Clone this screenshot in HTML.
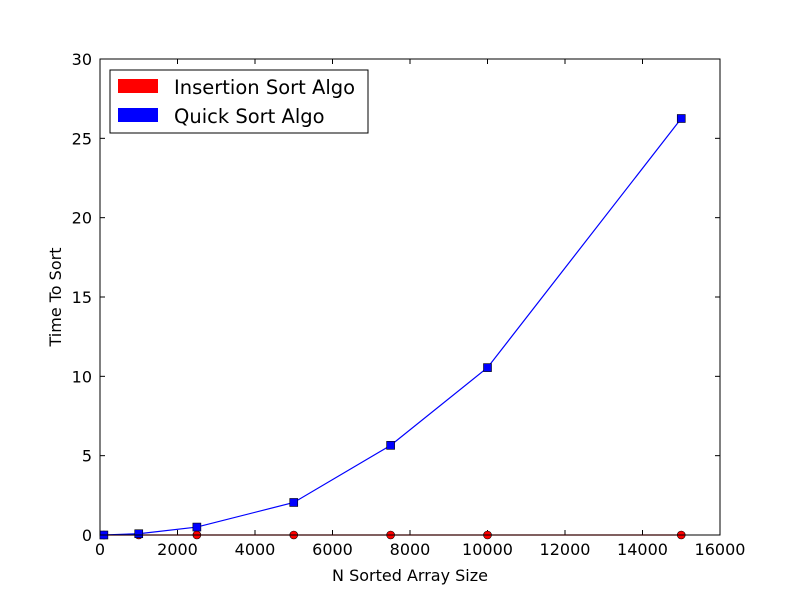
<!DOCTYPE html>
<html><head><meta charset="utf-8"><style>
body{margin:0;background:#fff}
svg text{font-family:"DejaVu Sans","Liberation Sans",sans-serif;fill:#000}
</style></head><body>
<svg id="chart" width="800" height="595" xmlns="http://www.w3.org/2000/svg">
<rect width="800" height="595" fill="#fff"/>
<g id="g"></g>
</svg>
<script>
const xVals=[100,1000,2500,5000,7500,10000,15000];
const insertionVals=[0,0,0,0,0,0,0];
const quickVals=[0,0.08,0.5,2.05,5.65,10.55,26.25];
const xTicks=[0,2000,4000,6000,8000,10000,12000,14000,16000];
const yTicks=[0,5,10,15,20,25,30];
const L=100,R=720,T=59,B=535;
const sx=v=>L+(R-L)*v/16000;
const sy=v=>B-(B-T)*v/30;
const NS="http://www.w3.org/2000/svg";
const g=document.getElementById('g');
function mk(t,a,txt){const e=document.createElementNS(NS,t);for(const k in a)e.setAttribute(k,a[k]);if(txt!==undefined)e.textContent=txt;g.appendChild(e);return e;}
xTicks.forEach(v=>{const x=sx(v);
mk('line',{x1:x,x2:x,y1:B,y2:B-5,stroke:'#000'});
mk('line',{x1:x,x2:x,y1:T,y2:T+5,stroke:'#000'});
const t=mk('text',{x:x,y:B+20,'text-anchor':'middle','font-size':'16'},String(v));

});
yTicks.forEach(v=>{const y=sy(v);
mk('line',{x1:L,x2:L+5,y1:y,y2:y,stroke:'#000'});
mk('line',{x1:R,x2:R-5,y1:y,y2:y,stroke:'#000'});
const t=mk('text',{x:L-8,y:y+6,'text-anchor':'end','font-size':'16'},String(v));

});
function series(vals,color,name,marker){
const pts=xVals.map((x,i)=>sx(x)+','+sy(vals[i])).join(' ');
const pl=mk('polyline',{points:pts,fill:'none',stroke:color,'stroke-width':1.2});


xVals.forEach((x,i)=>{let m;
if(marker==='o')m=mk('circle',{cx:sx(x),cy:sy(vals[i]),r:4,fill:color,stroke:'#000','stroke-width':0.6});
else m=mk('rect',{x:sx(x)-4,y:sy(vals[i])-4,width:8,height:8,fill:color,stroke:'#000','stroke-width':0.6});

});}
series(insertionVals,'#ff0000','insertion','o');
series(quickVals,'#0000ff','quick','s');
const fr=mk('rect',{x:L,y:T,width:R-L,height:B-T,fill:'none',stroke:'#000','stroke-width':1});


const xl=mk('text',{x:410,y:581,'text-anchor':'middle','font-size':'16'},'N Sorted Array Size');


const yl=mk('text',{x:61,y:297,'text-anchor':'middle','font-size':'16',transform:'rotate(-90 61 297)'},'Time To Sort');


const lg=mk('rect',{x:110,y:70,width:258,height:63,fill:'#fff',stroke:'#000','stroke-width':1});


const p1=mk('rect',{x:118,y:79,width:40,height:14,fill:'#ff0000'});


const t1=mk('text',{x:174,y:94,'font-size':'19.5'},'Insertion Sort Algo');


const p2=mk('rect',{x:118,y:108,width:40,height:14,fill:'#0000ff'});


const t2=mk('text',{x:174,y:123,'font-size':'19.5'},'Quick Sort Algo');


</script>
</body></html>
